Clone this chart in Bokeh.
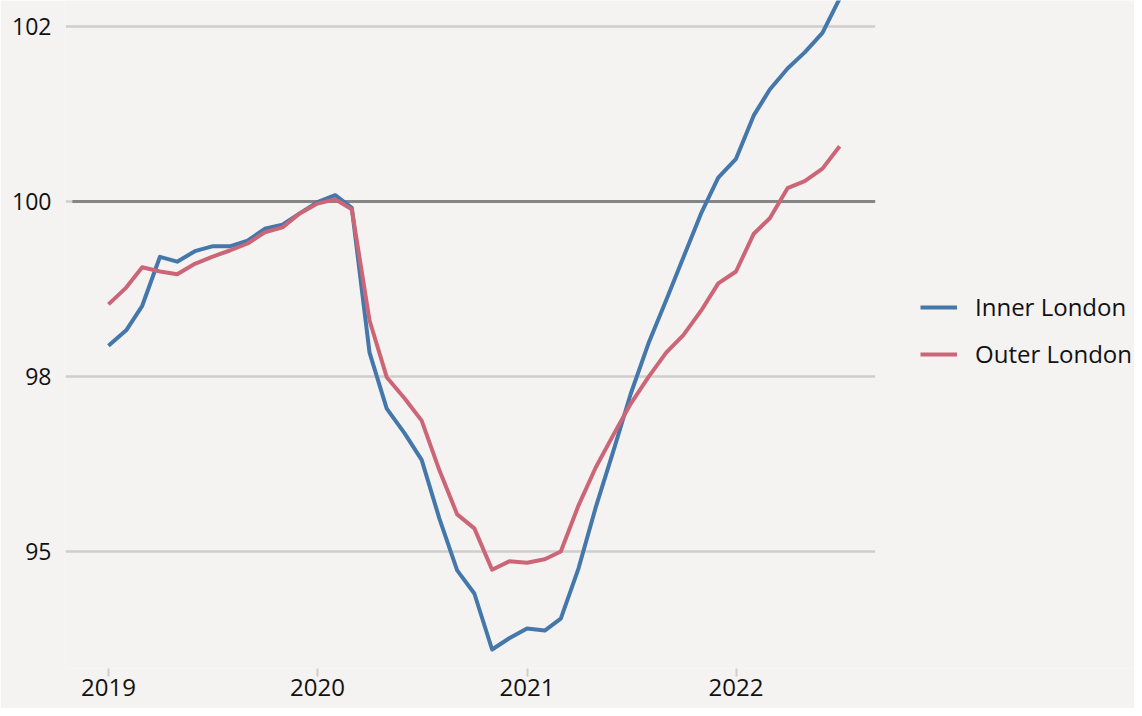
import pandas as pd
from bokeh.plotting import figure
from bokeh.models import Legend, LegendItem, FixedTicker, Range1d
from bokeh.embed import file_html
from bokeh.resources import INLINE

# ---- data ----
months = pd.date_range("2019-01-01", "2022-07-01", freq="MS")

inner_london = [97.94, 98.16, 98.51, 99.21, 99.14, 99.29, 99.36, 99.36, 99.44, 99.61,
                99.67, 99.83, 99.99, 100.09, 99.91, 97.84, 97.04, 96.69, 96.31, 95.47,
                94.73, 94.40, 93.60, 93.76, 93.90, 93.87, 94.04, 94.76, 95.63, 96.44,
                97.25, 97.97, 98.59, 99.20, 99.83, 100.34, 100.61, 101.23, 101.60, 101.90,
                102.13, 102.41, 102.90]

outer_london = [98.53, 98.77, 99.06, 99.00, 98.96, 99.11, 99.21, 99.30, 99.40, 99.56,
                99.63, 99.83, 99.97, 100.03, 99.89, 98.30, 97.49, 97.19, 96.87, 96.16,
                95.53, 95.33, 94.74, 94.86, 94.84, 94.89, 95.00, 95.66, 96.20, 96.67,
                97.11, 97.49, 97.84, 98.09, 98.44, 98.83, 99.00, 99.54, 99.76, 100.19,
                100.29, 100.47, 100.79]

series_names = ["Inner London", "Outer London"]
series_colors = ["#4477AA", "#CC6677"]

y_tick_values = [95, 97.5, 100, 102.5]
y_tick_labels = ["95", "98", "100", "102"]

x_tick_dates = ["2019-01-01", "2020-01-01", "2021-01-01", "2022-01-01"]
x_tick_labels = ["2019", "2020", "2021", "2022"]

baseline = 100

# ---- layout / styling ----
BG = "#F4F3F1"
FONT = "Open Sans"
TEXT = "#111111"

px_per_day = 209 / 365.0
px_per_unit = 70.0
left_border = 65
fig_w = 1134
frame_w = fig_w - left_border
frame_h = 668
bottom_border = 40

x_start = pd.Timestamp("2018-10-18")
x_end = x_start + pd.Timedelta(days=frame_w / px_per_day)
grid_end = pd.Timestamp("2022-09-01")
y_end = 102.5 + 26 / px_per_unit
y_start = y_end - frame_h / px_per_unit

p = figure(
    x_axis_type="datetime",
    frame_width=frame_w, frame_height=frame_h,
    x_range=Range1d(x_start, x_end),
    y_range=Range1d(y_start, y_end),
    output_backend="svg", toolbar_location=None,
    min_border_left=left_border, min_border_top=0, min_border_right=0,
    min_border_bottom=bottom_border,
)
p.background_fill_color = BG
p.border_fill_color = BG
p.outline_line_color = None
p.xgrid.grid_line_color = None
p.ygrid.grid_line_color = None

# horizontal gridlines (only across the chart area, not under the legend)
p.segment(x0=[x_start] * len(y_tick_values), x1=[grid_end] * len(y_tick_values),
          y0=y_tick_values, y1=y_tick_values, line_color="#CFCECC", line_width=2.5)
# reference line at 100
p.segment(x0=[x_start + pd.Timedelta(days=12)], x1=[grid_end], y0=[baseline], y1=[baseline],
          line_color="#858585", line_width=3)

# y axis
p.yaxis.ticker = FixedTicker(ticks=y_tick_values)
p.yaxis.major_label_overrides = {v: l for v, l in zip(y_tick_values, y_tick_labels)}
p.yaxis.axis_line_color = None
p.yaxis.major_tick_line_color = None
p.yaxis.minor_tick_line_color = None
p.yaxis.major_label_standoff = 8
p.yaxis.major_label_text_font = FONT
p.yaxis.major_label_text_font_size = "23px"
p.yaxis.major_label_text_color = TEXT

# x axis
x_tick_ms = [pd.Timestamp(d).value // 10**6 for d in x_tick_dates]
p.xaxis.ticker = FixedTicker(ticks=x_tick_ms)
p.xaxis.major_label_overrides = {t: l for t, l in zip(x_tick_ms, x_tick_labels)}
p.xaxis.axis_line_color = None
p.xaxis.major_tick_line_color = "#CFCECC"
p.xaxis.major_tick_line_width = 2
p.xaxis.major_tick_out = 8
p.xaxis.major_tick_in = 0
p.xaxis.minor_tick_line_color = None
p.xaxis.major_label_standoff = 2
p.xaxis.major_label_text_font = FONT
p.xaxis.major_label_text_font_size = "24px"
p.xaxis.major_label_text_color = TEXT

renderers = []
for vals, color in zip([inner_london, outer_london], series_colors):
    r = p.line(months, vals, line_color=color, line_width=4, line_join="round")
    renderers.append(r)

legend = Legend(
    items=[LegendItem(label=n, renderers=[r]) for n, r in zip(series_names, renderers)],
    location=(855, 298),
    orientation="vertical",
    background_fill_alpha=0,
    border_line_color=None,
    margin=0, padding=0,
    glyph_width=37, glyph_height=30,
    label_standoff=18, label_height=30,
    spacing=14,
    label_text_font=FONT,
    label_text_font_size="24px",
    label_text_color=TEXT,
)
p.add_layout(legend)

open("out.html", "w").write(file_html(p, INLINE))
